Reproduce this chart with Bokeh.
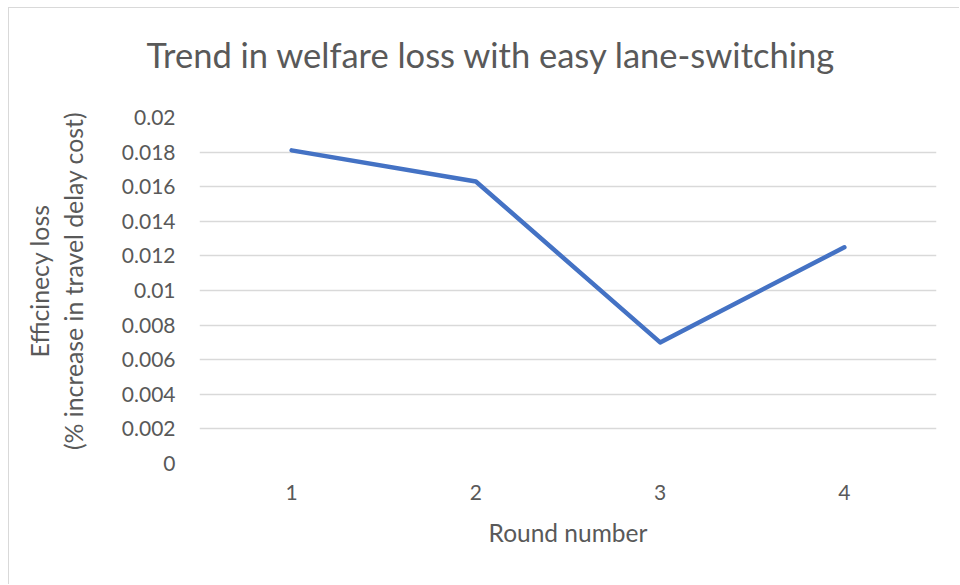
from bokeh.plotting import figure
from bokeh.models import FactorRange, Range1d, Title
from bokeh.embed import file_html
from bokeh.resources import INLINE

rounds = ["1", "2", "3", "4"]
efficiency_loss = [0.0181, 0.0163, 0.0070, 0.0125]
y_ticks = [0, 0.002, 0.004, 0.006, 0.008, 0.01, 0.012, 0.014, 0.016, 0.018, 0.02]
y_tick_labels = ["0", "0.002", "0.004", "0.006", "0.008", "0.01", "0.012", "0.014", "0.016", "0.018", "0.02"]

title_text = "Trend in welfare loss with easy lane-switching"
x_label = "Round number"
y_label_1 = "Efficinecy loss"
y_label_2 = "(% increase in travel delay cost)"

FONT = "Lato"
TXT = "#595959"

p = figure(x_range=FactorRange(*rounds, range_padding=0), y_range=Range1d(0, 0.02),
           width=951, height=577, output_backend="svg", toolbar_location=None,
           min_border_left=190, min_border_right=24, min_border_top=109, min_border_bottom=122)
p.outline_line_color = None
p.styles = {"margin-left": "8px", "margin-top": "7px",
            "border-left": "1px solid #d9d9d9", "border-top": "1px solid #d9d9d9"}

p.line(x=rounds, y=efficiency_loss, line_color="#4472C4", line_width=4.5, line_join="round", line_cap="round")

# spacer between frame and title
p.add_layout(Title(text="\u00a0", text_font=FONT, text_font_size="15px", standoff=0), "above")
p.title = Title(text=title_text, align="left", offset=-53, standoff=46,
                text_font=FONT, text_font_size="34.5px", text_font_style="normal", text_color=TXT)

nb = "\u00a0" * 3
p.yaxis.ticker = y_ticks
p.yaxis.major_label_overrides = {t: l for t, l in zip(y_ticks, y_tick_labels)}
p.yaxis.axis_line_color = None
p.yaxis.major_tick_line_color = None
p.yaxis.minor_tick_line_color = None
p.yaxis.major_label_text_font = FONT
p.yaxis.major_label_text_font_size = "21px"
p.yaxis.major_label_text_color = TXT
p.yaxis.major_label_standoff = 18
p.yaxis.axis_label = nb + y_label_1 + "\n" + nb + y_label_2
p.yaxis.axis_label_text_font = FONT
p.yaxis.axis_label_text_font_size = "24.8px"
p.yaxis.axis_label_text_font_style = "normal"
p.yaxis.axis_label_text_color = TXT
p.yaxis.axis_label_text_line_height = 1.15
p.yaxis.axis_label_standoff = 31

p.xaxis.axis_line_color = None
p.xaxis.major_tick_line_color = None
p.xaxis.major_label_text_font = FONT
p.xaxis.major_label_text_font_size = "21px"
p.xaxis.major_label_text_color = TXT
p.xaxis.major_label_standoff = 15
p.xaxis.axis_label = x_label
p.xaxis.axis_label_text_font = FONT
p.xaxis.axis_label_text_font_size = "24.5px"
p.xaxis.axis_label_text_font_style = "normal"
p.xaxis.axis_label_text_color = TXT
p.xaxis.axis_label_standoff = 15

p.xgrid.grid_line_color = None
p.ygrid.grid_line_color = "#d9d9d9"
p.ygrid.grid_line_width = 1.3

open("out.html", "w").write(file_html(p, INLINE))
